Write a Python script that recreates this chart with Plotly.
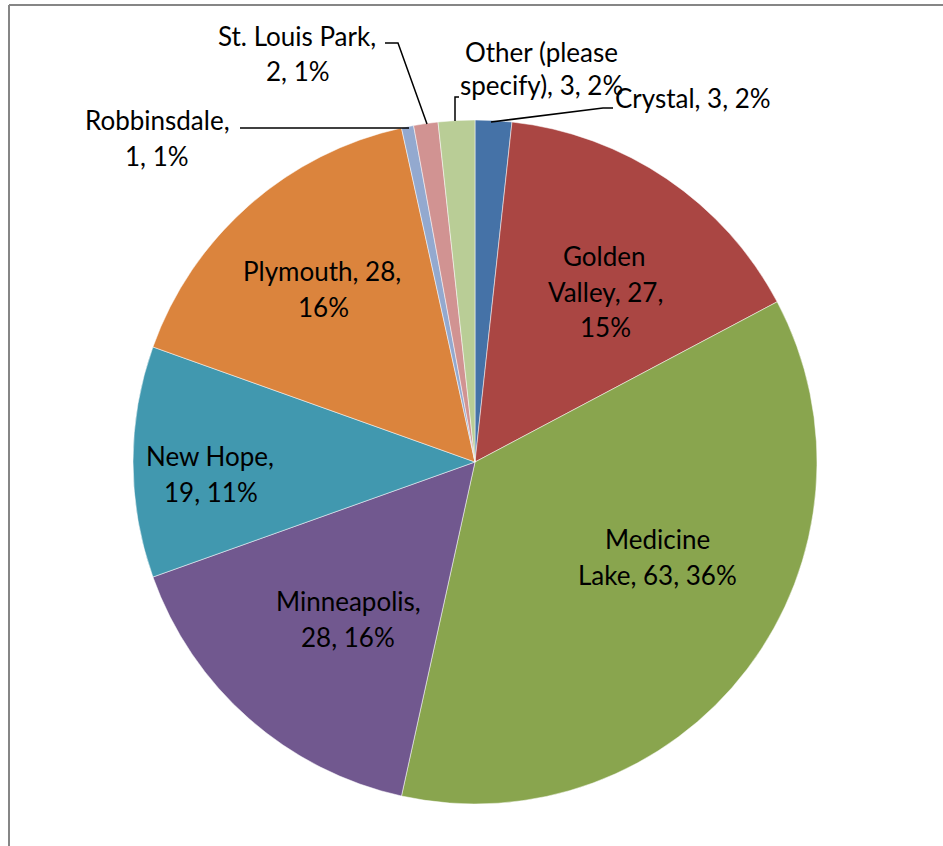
import plotly.graph_objects as go

categories = ["Crystal", "Golden Valley", "Medicine Lake", "Minneapolis", "New Hope",
              "Plymouth", "Robbinsdale", "St. Louis Park", "Other (please specify)"]
values = [3, 27, 63, 28, 19, 28, 1, 2, 3]
percent_labels = ["2%", "15%", "36%", "16%", "11%", "16%", "1%", "1%", "2%"]
colors = ["#4572A7", "#AA4643", "#89A54E", "#71588F", "#4198AF",
          "#DB843D", "#93A9CF", "#D19392", "#B9CD96"]

W, H = 943, 846
FONT = "Lato"
FS = 26

# label line layouts: (category index, [(text, center_x_px, baseline_px), ...])
label_lines = [
    (0, [("{0}, {1}, {2}", 693, 107)]),
    (1, [("Golden", 604, 265), ("Valley, {1},", 605, 301), ("{2}", 605, 336)]),
    (2, [("Medicine", 657, 548), ("Lake, {1}, {2}", 657, 584)]),
    (3, [("Minneapolis,", 348, 610), ("{1}, {2}", 348, 646)]),
    (4, [("New Hope,", 210, 465), ("{1}, {2}", 211, 501)]),
    (5, [("Plymouth, {1},", 322, 280), ("{2}", 323, 316)]),
    (6, [("Robbinsdale,", 157, 129), ("{1}, {2}", 157, 165)]),
    (7, [("St. Louis Park,", 297, 45), ("{1}, {2}", 298, 80)]),
    (8, [("Other (please", 541, 61), ("specify), {1}, {2}", 541, 94)]),
]

leaders = [
    [(491, 122), (603, 108), (613, 108)],
    [(455, 121), (455, 97), (459, 97)],
    [(427, 124), (398, 43), (385, 43)],
    [(409, 128), (240, 128)],
]

def px(x):
    return x / W

def py(y):
    return 1 - y / H

cx, cy, r = 475, 462, 342

fig = go.Figure(go.Pie(
    labels=categories,
    values=values,
    sort=False,
    direction="clockwise",
    rotation=0,
    marker=dict(colors=colors, line=dict(color="white", width=0.5)),
    textinfo="none",
    hoverinfo="skip",
    showlegend=False,
    domain=dict(x=[px(cx - r), px(cx + r)], y=[py(cy + r), py(cy - r)]),
))

annotations = []
for idx, lines in label_lines:
    name = categories[idx]
    for tmpl, x, base in lines:
        txt = tmpl.format(name, values[idx], percent_labels[idx])
        annotations.append(dict(
            x=px(x), y=py(base - 0.33 * FS), xref="paper", yref="paper",
            text=txt, showarrow=False, xanchor="center", yanchor="middle",
            font=dict(family=FONT, size=FS, color="black"),
        ))

shapes = []
for pts in leaders:
    path = "M " + " L ".join(f"{px(x)},{py(y)}" for x, y in pts)
    shapes.append(dict(type="path", path=path, xref="paper", yref="paper",
                       line=dict(color="black", width=1.5)))

# chart frame (left and top edges visible)
shapes.append(dict(type="line", xref="paper", yref="paper", x0=px(9), x1=px(9),
                   y0=py(5), y1=0, line=dict(color="#868686", width=2)))
shapes.append(dict(type="line", xref="paper", yref="paper", x0=px(9), x1=1,
                   y0=py(5), y1=py(5), line=dict(color="#868686", width=2)))

fig.update_layout(
    width=W, height=H,
    margin=dict(l=0, r=0, t=0, b=0),
    paper_bgcolor="white", plot_bgcolor="white",
    annotations=annotations, shapes=shapes,
)

fig.write_html(
    "out.html",
    config={"displayModeBar": False},
    post_script="document.body.style.margin='0';document.body.style.overflow='hidden';",
)
